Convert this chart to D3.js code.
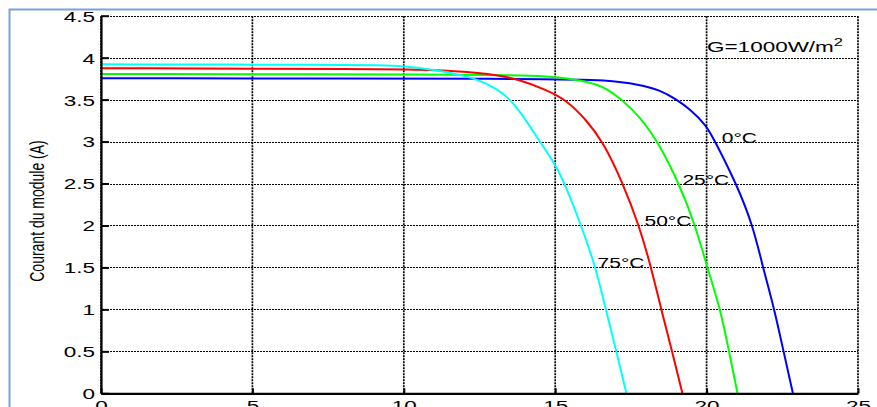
<!DOCTYPE html>
<html><head><meta charset="utf-8">
<script src="https://cdn.jsdelivr.net/npm/d3@7"></script>
<style>
html,body{margin:0;padding:0;background:#fff;overflow:hidden;}
text{font-family:"Liberation Sans",Arial,sans-serif;fill:#000;}
</style></head>
<body>
<svg id="chart" width="877" height="407"></svg>
<script>
// Data (voltage V, current A)
const series = ["0°C", "25°C", "50°C", "75°C"];
const colors = ["#0000ff", "#00ff00", "#ff0000", "#00ffff"];
const v0  = [0, 15, 16.69, 17.79, 18.45, 19.0, 19.44, 19.99, 20.28, 20.98, 21.53, 21.86, 22.24, 22.54, 22.85];
const i0  = [3.754, 3.75, 3.734, 3.68, 3.615, 3.504, 3.39, 3.198, 3.0, 2.5, 2.0, 1.5, 1.0, 0.5, 0];
const v25 = [0, 12, 14.49, 15, 16.14, 16.69, 17.2, 17.79, 18.39, 19.09, 19.63, 20.02, 20.46, 20.74, 21.02];
const i25 = [3.806, 3.80, 3.785, 3.77, 3.714, 3.635, 3.5, 3.3, 3.0, 2.5, 2.0, 1.5, 1.0, 0.5, 0];
const v50 = [0, 9.2, 11.4, 12.84, 13.83, 14.71, 15.35, 16.0, 16.58, 17.24, 17.77, 18.17, 18.5, 18.86, 19.2];
const i50 = [3.874, 3.865, 3.853, 3.81, 3.74, 3.615, 3.5, 3.27, 3.0, 2.5, 2.0, 1.5, 1.0, 0.5, 0];
const v75 = [0, 8, 9.2, 10, 10.9, 11.96, 12.5, 13.06, 13.4, 13.83, 14.49, 15.02, 15.31, 15.86, 16.34, 16.67, 17.02, 17.35];
const i75 = [3.92, 3.915, 3.91, 3.9, 3.86, 3.79, 3.73, 3.63, 3.54, 3.37, 3.0, 2.72, 2.5, 2.0, 1.5, 1.0, 0.5, 0];
const xTicks = [0, 5, 10, 15, 20, 25];
const yTicks = [0, 0.5, 1, 1.5, 2, 2.5, 3, 3.5, 4, 4.5];
const yTitle = "Courant du module (A)";
const note = "G=1000W/m";
// label anchor positions in data units (V, A)
const labelPos = [[20.5, 3.0], [19.2, 2.5], [17.95, 2.0], [16.4, 1.5]];

const V = [v0, v25, v50, v75], I = [i0, i25, i50, i75];
const SX = 1.5; // horizontal stretch of the reference text

const svg = d3.select("#chart");
const x = d3.scaleLinear().domain([0, 25]).range([101, 858]);
const y = d3.scaleLinear().domain([0, 4.5]).range([393.3, 15.7]);

// grid
const grid = svg.append("g").attr("stroke", "#000").attr("stroke-width", 1.1).attr("stroke-dasharray", "2,1").attr("fill", "none");
grid.selectAll(".gy").data(yTicks).join("line")
  .attr("x1", x(0)).attr("x2", x(25))
  .attr("y1", d => Math.round(y(d)) + 0.5).attr("y2", d => Math.round(y(d)) + 0.5);
grid.selectAll(".gx").data(xTicks).join("line")
  .attr("y1", y(0)).attr("y2", y(4.5))
  .attr("x1", d => x(d)).attr("x2", d => x(d)).attr("stroke-width", 1.7);

// curves
const line = d3.line().x(d => x(d[0])).y(d => y(d[1])).curve(d3.curveBasis);
series.forEach((s, k) => {
  const pts = V[k].map((v, j) => [v, I[k][j]]);
  svg.append("path").datum(pts).attr("d", line)
    .attr("fill", "none").attr("stroke", colors[k]).attr("stroke-width", 2);
});

// axes
const ax = d3.axisLeft(y).tickValues(yTicks).tickSizeInner(-8).tickSizeOuter(0).tickFormat(d3.format("~g"));
const gL = svg.append("g").attr("transform", `translate(${x(0)},0)`).call(ax);
const bx = d3.axisBottom(x).tickValues(xTicks).tickSizeInner(-5).tickSizeOuter(0);
const gB = svg.append("g").attr("transform", `translate(0,${y(0)})`).call(bx);
[gL, gB].forEach(g => {
  g.select(".domain").attr("stroke", "#000").attr("stroke-width", 2.2);
  g.selectAll(".tick line").attr("stroke", "#000").attr("stroke-width", 2);
  g.selectAll(".tick text").attr("font-size", 15).attr("font-family", "Liberation Sans, Arial, sans-serif").attr("fill", "#000");
});
gL.selectAll(".tick text").attr("x", -6 / SX).attr("dy", "0.36em").attr("transform", `scale(${SX},1)`).attr("text-anchor", "end");
gB.selectAll(".tick text").attr("y", 7).attr("dy", "0.71em").attr("transform", `scale(${SX},1)`).attr("text-anchor", "middle");

// y title
svg.append("text")
  .attr("transform", `translate(44,211) scale(${SX},1) rotate(-90)`)
  .attr("text-anchor", "middle").attr("font-size", 14).text(yTitle);

// curve labels
series.forEach((s, k) => {
  const p = labelPos[k];
  svg.append("text").attr("transform", `translate(${x(p[0])},${y(p[1]) + 1}) scale(${SX},1)`)
    .attr("font-size", 14).text(s);
});

// irradiance note
const t = svg.append("text").attr("transform", `translate(707,51.7) scale(${SX},1)`).attr("font-size", 15);
t.append("tspan").text(note);
t.append("tspan").attr("dy", -6).attr("font-size", 11).text("2");

// outer frame
svg.append("rect").attr("x", 9.5).attr("y", 9.5).attr("width", 900).attr("height", 420)
  .attr("fill", "none").attr("stroke", "#7ca2d6").attr("stroke-width", 2);
</script>
</body></html>
